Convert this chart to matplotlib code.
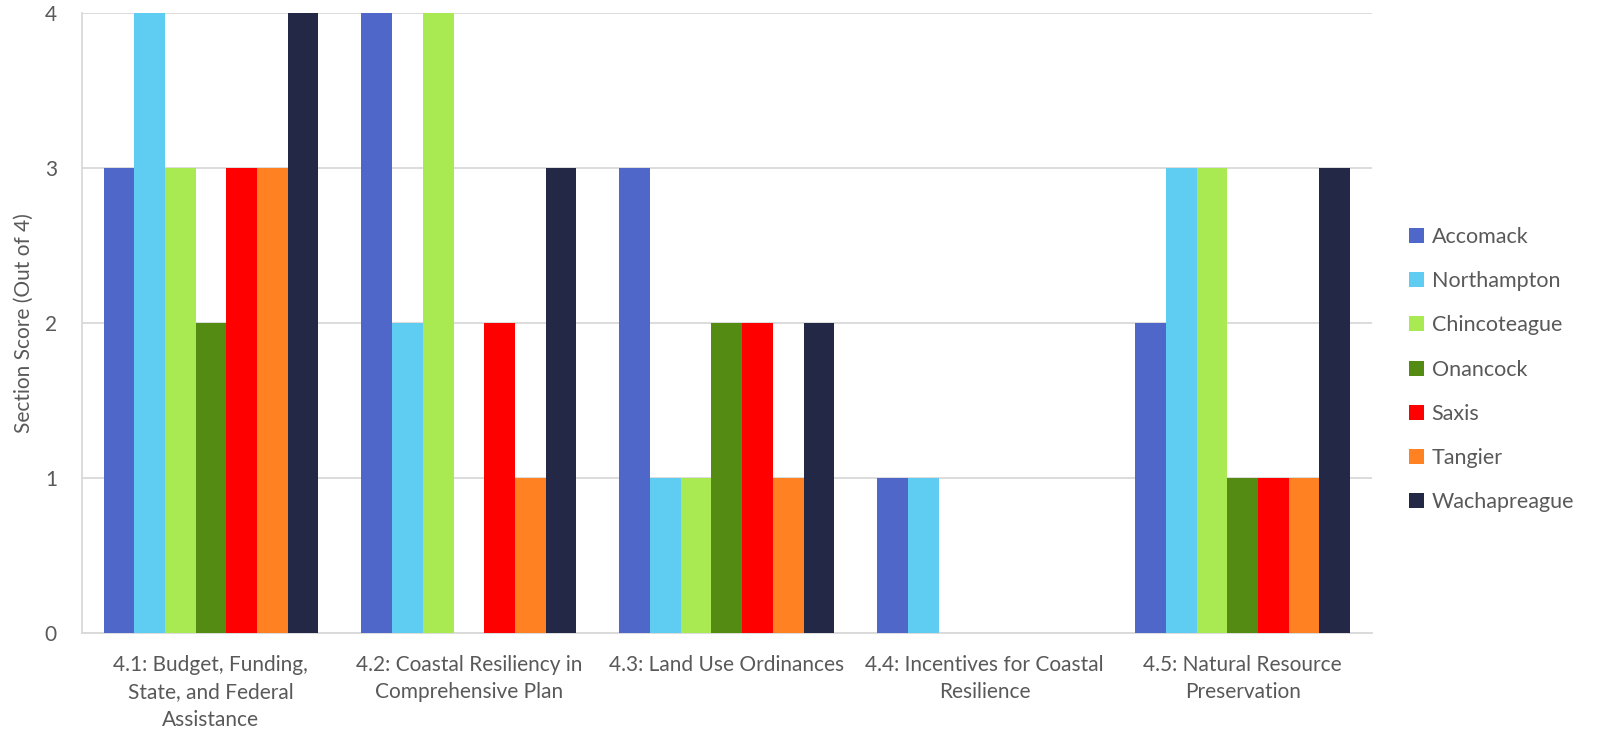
import numpy as np
import matplotlib.pyplot as plt

plt.rcParams['font.family'] = ['Lato', 'DejaVu Sans']

categories = ["4.1: Budget, Funding,\nState, and Federal\nAssistance",
              "4.2: Coastal Resiliency in\nComprehensive Plan",
              "4.3: Land Use Ordinances",
              "4.4: Incentives for Coastal\nResilience",
              "4.5: Natural Resource\nPreservation"]

accomack = [3, 4, 3, 1, 2]
northampton = [4, 2, 1, 1, 3]
chincoteague = [3, 4, 1, 0, 3]
onancock = [2, 0, 2, 0, 1]
saxis = [3, 2, 2, 0, 1]
tangier = [3, 1, 1, 0, 1]
wachapreague = [4, 3, 2, 0, 3]

series = [("Accomack", accomack, "#4F67C8"),
          ("Northampton", northampton, "#5FCDF2"),
          ("Chincoteague", chincoteague, "#A9EA52"),
          ("Onancock", onancock, "#548B12"),
          ("Saxis", saxis, "#FF0000"),
          ("Tangier", tangier, "#FF8122"),
          ("Wachapreague", wachapreague, "#232846")]

text_color = "#595959"
grid_color = "#D9D9D9"

fig = plt.figure(figsize=(15.98, 7.31), dpi=100)
ax = fig.add_axes([0.0513, 0.134, 0.807, 0.848])

x = np.arange(len(categories))
w = 0.119
for i, (name, vals, col) in enumerate(series):
    ax.bar(x + (i - 3) * w, vals, width=w, color=col, label=name, zorder=3)

ax.set_xlim(-0.5, len(categories) - 0.5)
ax.set_ylim(0, 4)
ax.set_yticks([0, 1, 2, 3, 4])
ax.set_xticks(x)
ax.set_xticklabels(categories, fontsize=15, color=text_color, linespacing=1.45)
ax.tick_params(axis='y', labelsize=15, colors=text_color, length=0, pad=18)
ax.tick_params(axis='x', length=0, pad=16)
ax.yaxis.grid(True, color=grid_color, linewidth=1.3, zorder=0)
ax.set_ylabel("Section Score (Out of 4)", fontsize=15, color=text_color, labelpad=8)

for s in ["top", "right"]:
    ax.spines[s].set_visible(False)
ax.spines["left"].set_color(grid_color)
ax.spines["bottom"].set_color(grid_color)
ax.spines["left"].set_linewidth(1.3)
ax.spines["bottom"].set_linewidth(1.3)

leg = ax.legend(loc="center left", bbox_to_anchor=(1.014, 0.425), frameon=False,
                fontsize=15.5, labelcolor=text_color, handlelength=0.7,
                handleheight=0.7, handletextpad=0.35, labelspacing=1.12)

fig.savefig("out.png", dpi=100)
